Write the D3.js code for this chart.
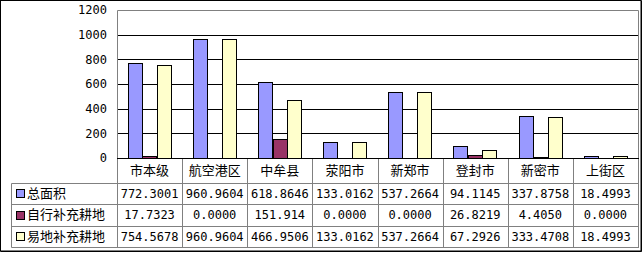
<!DOCTYPE html>
<html>
<head>
<meta charset="utf-8">
<script src="https://cdn.jsdelivr.net/npm/d3@7"></script>
<style>
  body { margin: 0; background: #fff; }
  svg text { font-family: "DejaVu Sans Mono", monospace; font-size: 12px; fill: #000; }
  svg text.cjk { font-family: "Noto Sans CJK SC", sans-serif; font-size: 13px; }
</style>
</head>
<body>
<svg id="chart" width="644" height="254"></svg>
<script>
var categories = ['市本级', '航空港区', '中牟县', '荥阳市', '新郑市', '登封市', '新密市', '上街区'];
var seriesNames = ['总面积', '自行补充耕地', '易地补充耕地'];
var totalArea = [772.3001, 960.9604, 618.8646, 133.0162, 537.2664, 94.1145, 337.8758, 18.4993];
var selfAdded = [17.7323, 0, 151.914, 0, 0, 26.8219, 4.4050, 0];
var offsiteAdded = [754.5678, 960.9604, 466.9506, 133.0162, 537.2664, 67.2926, 333.4708, 18.4993];
var tableLabels = [
    ['772.3001', '960.9604', '618.8646', '133.0162', '537.2664', '94.1145', '337.8758', '18.4993'],
    ['17.7323', '0.0000', '151.914', '0.0000', '0.0000', '26.8219', '4.4050', '0.0000'],
    ['754.5678', '960.9604', '466.9506', '133.0162', '537.2664', '67.2926', '333.4708', '18.4993']
];
var yTicks = [0, 200, 400, 600, 800, 1000, 1200];
var colors = ['#9999ff', '#993366', '#ffffcc'];

var seriesValues = [totalArea, selfAdded, offsiteAdded];
var svg = d3.select('#chart');

var plot = { l: 117, r: 638, t: 10, b: 158 };
var tbl = { l: 11, rows: [158, 182.5, 204, 225.5, 247] };

// outer frame
svg.append('rect')
    .attr('x', 0.5).attr('y', 0.5)
    .attr('width', 640.5).attr('height', 250.5)
    .style('fill', 'none').style('stroke', '#000').style('stroke-width', 1);
svg.append('path')
    .attr('d', 'M641.5,0.5V251.5H0.5')
    .style('fill', 'none').style('stroke', '#000').style('stroke-width', 1);

var x = d3.scaleBand().domain(categories).range([plot.l, plot.r]);
var xs = d3.scaleBand().domain(seriesNames).range([0, x.bandwidth()])
    .paddingInner(0).paddingOuter(0.75);
var y = d3.scaleLinear().domain([0, 1200]).range([plot.b, plot.t]);

// gridlines
svg.append('g').selectAll('line')
    .data(yTicks.filter(function (t) { return t > 0 && t < 1200; }))
    .enter().append('line')
    .attr('x1', plot.l).attr('x2', plot.r)
    .attr('y1', function (d) { return Math.round(y(d)) + 0.5; })
    .attr('y2', function (d) { return Math.round(y(d)) + 0.5; })
    .style('stroke', '#000');

// plot frame (grey)
svg.append('path')
    .attr('d', 'M' + (plot.l + 0.5) + ',' + (tbl.rows[4] + 0.5) + 'V' + (plot.t + 0.5) +
        'H' + (plot.r + 0.5) + 'V' + (tbl.rows[4] + 0.5))
    .style('fill', 'none').style('stroke', '#808080');

// y axis labels
var yAxis = d3.axisLeft(y).tickValues(yTicks).tickFormat(d3.format('d'))
    .tickSize(0).tickPadding(10);
var yG = svg.append('g')
    .attr('transform', 'translate(' + [plot.l, 0] + ')')
    .call(yAxis);
yG.select('.domain').remove();
yG.selectAll('text').style('font-family', '"DejaVu Sans Mono", monospace').style('font-size', '12px');

// bars
seriesNames.forEach(function (s, si) {
    svg.append('g').selectAll('rect')
        .data(seriesValues[si].map(function (v, i) { return { c: categories[i], v: v }; })
            .filter(function (d) { return d.v > 0; }))
        .enter().append('rect')
        .attr('x', function (d) { return Math.round(x(d.c) + xs(s)) + 0.5; })
        .attr('width', Math.round(xs.bandwidth()))
        .attr('y', function (d) { return Math.round(y(d.v)) + 0.5; })
        .attr('height', function (d) { return Math.max(1, Math.round(y(0)) - Math.round(y(d.v))); })
        .style('fill', colors[si])
        .style('stroke', '#000');
});

// zero line
svg.append('line')
    .attr('x1', plot.l).attr('x2', plot.r + 1)
    .attr('y1', plot.b + 0.5).attr('y2', plot.b + 0.5)
    .style('stroke', '#000');

// data table grid
var grid = svg.append('g').style('stroke', '#808080');
tbl.rows.slice(1).forEach(function (ry) {
    grid.append('line')
        .attr('x1', tbl.l + 0.5).attr('x2', plot.r + 1)
        .attr('y1', Math.round(ry) + 0.5).attr('y2', Math.round(ry) + 0.5);
});
grid.append('line')
    .attr('x1', tbl.l + 0.5).attr('x2', tbl.l + 0.5)
    .attr('y1', Math.round(tbl.rows[1]) + 0.5).attr('y2', Math.round(tbl.rows[4]) + 0.5);
grid.selectAll('.sep')
    .data(categories.slice(1))
    .enter().append('line')
    .attr('x1', function (d) { return Math.round(x(d)) + 0.5; })
    .attr('x2', function (d) { return Math.round(x(d)) + 0.5; })
    .attr('y1', plot.b + 1).attr('y2', Math.round(tbl.rows[4]) + 0.5);

// header row: category names
svg.append('g').selectAll('text')
    .data(categories)
    .enter().append('text')
    .attr('class', 'cjk')
    .attr('x', function (d) { return x(d) + x.bandwidth() / 2; })
    .attr('y', (tbl.rows[0] + tbl.rows[1]) / 2 + 1)
    .attr('text-anchor', 'middle')
    .attr('dominant-baseline', 'middle')
    .text(function (d) { return d; });

// legend column + values
seriesNames.forEach(function (s, si) {
    var ry0 = tbl.rows[si + 1], ry1 = tbl.rows[si + 2];
    var cy = (ry0 + ry1) / 2;
    svg.append('rect')
        .attr('x', 16.5).attr('y', Math.round(cy - 4) + 0.5)
        .attr('width', 8).attr('height', 8)
        .style('fill', colors[si]).style('stroke', '#000');
    svg.append('text')
        .attr('class', 'cjk')
        .attr('x', 27).attr('y', cy + 1)
        .attr('dominant-baseline', 'middle')
        .text(s);
    svg.append('g').selectAll('text')
        .data(tableLabels[si])
        .enter().append('text')
        .attr('x', function (d, i) { return x(categories[i]) + x.bandwidth() / 2; })
        .attr('y', cy + 1)
        .attr('text-anchor', 'middle')
        .attr('dominant-baseline', 'middle')
        .text(function (d) { return d; });
});
</script>
</body>
</html>
